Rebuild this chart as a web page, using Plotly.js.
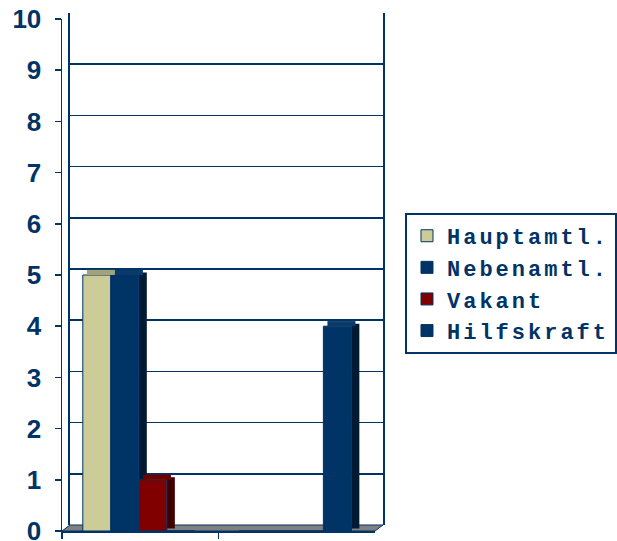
<!DOCTYPE html>
<html>
<head>
<meta charset="utf-8">
<script src="https://cdn.plot.ly/plotly-3.0.1.min.js"></script>
<style>
  html, body { margin: 0; padding: 0; background: #fff; }
  #chart { width: 617px; height: 541px; }
  .legendtext { letter-spacing: 3px; }
</style>
</head>
<body>
<div id="chart"></div>
<script>
// ---- data ----
const categories = ["1", "2"];
const seriesNames = ["Hauptamtl.", "Nebenamtl.", "Vakant", "Hilfskraft"];
const hauptamtl = [5, 0];
const nebenamtl = [5, 0];
const vakant = [1, 0];
const hilfskraft = [0, 4];
const yTickVals = [0, 1, 2, 3, 4, 5, 6, 7, 8, 9, 10];
const yTickText = ["0", "1", "2", "3", "4", "5", "6", "7", "8", "9", "10"];

// ---- styles ----
const seriesValues = [hauptamtl, nebenamtl, vakant, hilfskraft];
const frontColors = ["#CCCC99", "#003366", "#800000", "#003366"];
const topColors = ["#A3A37A", "#0A3A6A", "#6E0000", "#0A3A6A"];
const sideColors = ["#8F8F6B", "#001A33", "#400000", "#001A33"];
const barWidth = 0.179;
const sideWidth = 0.051;
const depthX = 0.026;
const depthY = 0.1;
const offsets = [-0.367, -0.188, -0.009, 0.17];
const lineBlue = "#003366";

const traces = [];
// back wall subplot placeholder (no marks, only hosts the wall grid)
traces.push({
  type: "scatter", x: [], y: [], xaxis: "x", yaxis: "y",
  mode: "markers", showlegend: false, hoverinfo: "skip"
});
// side faces
seriesValues.forEach((vals, i) => {
  traces.push({
    type: "bar", x: categories, y: vals, base: vals.map(() => depthY / 2),
    xaxis: "x2", yaxis: "y2",
    width: sideWidth, offset: offsets[i] + barWidth,
    marker: { color: sideColors[i], opacity: vals.map(v => v > 0 ? 1 : 0), line: { width: 0 } },
    showlegend: false, hoverinfo: "skip"
  });
});
// front faces
seriesValues.forEach((vals, i) => {
  traces.push({
    type: "bar", x: categories, y: vals, name: seriesNames[i],
    xaxis: "x2", yaxis: "y2",
    width: barWidth, offset: offsets[i],
    marker: { color: frontColors[i], line: { color: lineBlue, width: 1 } }
  });
});
// top faces
seriesValues.forEach((vals, i) => {
  traces.push({
    type: "bar", x: categories, y: vals.map(() => depthY), base: vals,
    xaxis: "x2", yaxis: "y2",
    width: barWidth, offset: offsets[i] + depthX,
    marker: { color: topColors[i], opacity: vals.map(v => v > 0 ? 1 : 0), line: { width: 0 } },
    showlegend: false, hoverinfo: "skip"
  });
});

const layout = {
  width: 617, height: 541,
  margin: { l: 62, r: 234, t: 13, b: 10, autoexpand: false },
  paper_bgcolor: "#ffffff", plot_bgcolor: "rgba(0,0,0,0)",
  barmode: "overlay",
  showlegend: true,
  // back wall
  xaxis: {
    domain: [0.0249, 1], range: [0, 1], showgrid: false, zeroline: false,
    showline: false, showticklabels: false, ticks: "", fixedrange: true
  },
  yaxis: {
    domain: [0.0116, 1], range: [0, 10], dtick: 1, tick0: 0, showgrid: true,
    gridcolor: lineBlue, gridwidth: 1.5, zeroline: false,
    showline: true, linecolor: lineBlue, linewidth: 1.5, mirror: true,
    showticklabels: false, ticks: "", fixedrange: true
  },
  // front plane
  xaxis2: {
    domain: [0, 0.9751], type: "category", range: [-0.5, 1.5], anchor: "y2",
    showgrid: false, zeroline: false, showline: true, linecolor: lineBlue, linewidth: 1.5,
    ticks: "outside", tickson: "boundaries", ticklen: 6, tickcolor: lineBlue, tickwidth: 1.5,
    showticklabels: false, fixedrange: true
  },
  yaxis2: {
    domain: [0, 0.9884], range: [0, 10], anchor: "x2",
    tickvals: yTickVals, ticktext: yTickText,
    showgrid: false, zeroline: false, showline: true, linecolor: lineBlue, linewidth: 1.5,
    ticks: "outside", ticklen: 6, tickcolor: lineBlue, tickwidth: 1.5,
    ticklabelstandoff: 8, ticklabeloverflow: "allow",
    tickfont: { family: "Liberation Sans Narrow, Arial Narrow, Liberation Sans, sans-serif", size: 26, color: lineBlue, weight: "bold" },
    fixedrange: true
  },
  shapes: [
    {
      type: "path", xref: "paper", yref: "paper", layer: "below",
      path: "M 0 0 L 0.9751 0 L 1 0.0116 L 0.0249 0.0116 Z",
      fillcolor: "#808080", line: { color: lineBlue, width: 1 }
    }
  ],
  legend: {
    x: 1.0685, y: 0.614, xanchor: "left", yanchor: "top",
    bgcolor: "#ffffff", bordercolor: lineBlue, borderwidth: 2,
    font: { family: "Liberation Mono, Courier New, monospace", size: 22, color: lineBlue, weight: "bold" },
    traceorder: "normal"
  }
};

Plotly.newPlot("chart", traces, layout, { displayModeBar: false, staticPlot: true });
</script>
</body>
</html>
